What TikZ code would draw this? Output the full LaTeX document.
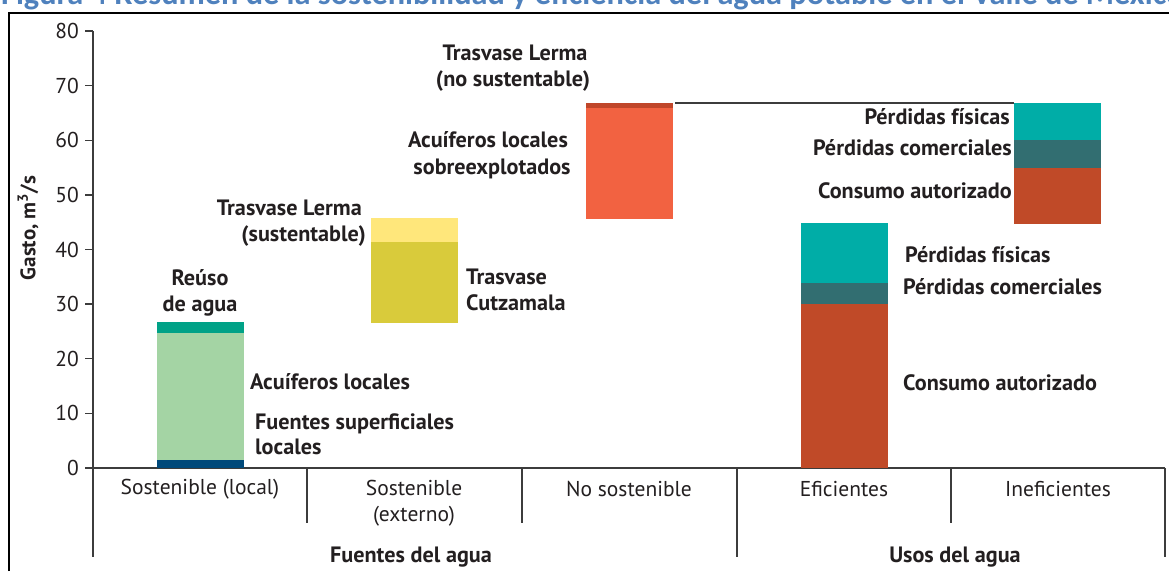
\documentclass[tikz,border=0pt]{standalone}
\usepackage{fontspec}
\setmainfont{PT Sans}
\newfontfamily\titlefont{Carlito}
\definecolor{titleblue}{HTML}{4F81BD}
\definecolor{txt}{HTML}{231F20}
\definecolor{axisgray}{HTML}{3C3C3C}
\definecolor{blueD}{HTML}{00497A}
\definecolor{greenL}{HTML}{A4D4A4}
\definecolor{greenT}{HTML}{00A287}
\definecolor{yellowL}{HTML}{FFE77B}
\definecolor{yellowD}{HTML}{D9CB3B}
\definecolor{orangeC}{HTML}{F26241}
\definecolor{redD}{HTML}{C0462A}
\definecolor{tealC}{HTML}{00ADA7}
\definecolor{tealD}{HTML}{326E71}
\definecolor{redC}{HTML}{C04A28}
\begin{document}
\begin{tikzpicture}[x=1pt,y=-1pt,
  seg/.style={inner sep=0pt, outer sep=0pt, anchor=north west, minimum width=87pt},
  lab/.style={font=\bfseries\fontsize{22.2}{26}\selectfont, text=txt, inner sep=0pt},
  cat/.style={font=\fontsize{21.5}{26}\selectfont, text=txt, inner sep=0pt},
  ticklab/.style={font=\fontsize{21.5}{26}\selectfont, text=txt, inner sep=0pt, anchor=east},
  axis/.style={draw=axisgray, line width=1.3pt},
  frame/.style={draw=black, line width=2pt}]
\useasboundingbox (0,0) rectangle (1169,571);
\begin{scope}
\clip (0,0) rectangle (1169,571);
% title (cut at the top)
\node[anchor=base west, inner sep=0pt, text=titleblue] (title) at (1,4)
  {\resizebox{1182pt}{!}{\titlefont\bfseries Figura 4 Resumen de la sostenibilidad y eficiencia del agua potable en el Valle de México}};
% frame
\draw[frame] (9,571) -- (9,13) -- (1170,13);
\end{scope}
% y axis
\draw[axis] (93,31) -- (93,557);
\foreach \v in {0,10,...,80} {
  \pgfmathsetmacro\yy{468-5.4625*\v}
  \draw[axis] (85,\yy) -- (93,\yy);
  \node[ticklab] (t\v) at (79,\yy) {\v};
}
\node[lab, rotate=90, font=\bfseries\fontsize{21}{25}\selectfont] (ylab) at (28,228) {Gasto, m\textsuperscript{3}/s};
% x axis and dividers
\draw[axis] (93,468) -- (1165,468);
\draw[axis] (307,468) -- (307,523);
\draw[axis] (522,468) -- (522,523);
\draw[axis] (737,468) -- (737,557);
\draw[axis] (951,468) -- (951,523);
\draw[axis] (1165,468) -- (1165,557);
% category labels
\node[cat] (c1) at (200,489) {Sostenible (local)};
\node[cat, align=center] (c2) at (414,503) {Sostenible\\(externo)};
\node[cat] (c3) at (629,489) {No sostenible};
\node[cat] (c4) at (844,489) {Eficientes};
\node[cat] (c5) at (1058,489) {Ineficientes};
\node[lab] (g1) at (411,557) {Fuentes del agua};
\node[lab] (g2) at (955,557) {Usos del agua};
% bar 1
\node[seg, fill=greenT, minimum height=11pt] (b1c) at (157,322) {};
\node[seg, fill=greenL, minimum height=127pt] (b1b) at (157,333) {};
\node[seg, fill=blueD, minimum height=8pt] (b1a) at (157,460) {};
% bar 2
\node[seg, fill=yellowL, minimum height=24pt] (b2b) at (371,218) {};
\node[seg, fill=yellowD, minimum height=81pt] (b2a) at (371,242) {};
% bar 3
\node[seg, fill=redD, minimum height=5pt] (b3b) at (586,103) {};
\node[seg, fill=orangeC, minimum height=111pt] (b3a) at (586,108) {};
% bar 4
\node[seg, fill=tealC, minimum height=60pt] (b4c) at (801,223) {};
\node[seg, fill=tealD, minimum height=21pt] (b4b) at (801,283) {};
\node[seg, fill=redC, minimum height=164pt] (b4a) at (801,304) {};
% bar 5
\node[seg, fill=tealC, minimum height=37pt] (b5c) at (1014,103) {};
\node[seg, fill=tealD, minimum height=28pt] (b5b) at (1014,140) {};
\node[seg, fill=redC, minimum height=56pt] (b5a) at (1014,168) {};
% connector
\draw[axis] ([xshift=2pt]b3b.north east) -- (b5c.north west);
% bar labels
\node[lab, anchor=mid] (l1a) at (200,283) {Reúso};
\node[lab, anchor=mid] (l1b) at (200,309) {de agua};
\node[lab, anchor=mid west] (l1c) at (250,387) {Acuíferos locales};
\node[lab, anchor=mid west] (l1d) at (255,427) {Fuentes superficiales};
\node[lab, anchor=mid west] (l1e) at (255,452) {locales};
\node[lab, anchor=mid east] (l2a) at (362,213) {Trasvase Lerma};
\node[lab, anchor=mid east] (l2b) at (366,239) {(sustentable)};
\node[lab, anchor=mid west] (l2c) at (466,282) {Trasvase};
\node[lab, anchor=mid west] (l2d) at (466,308) {Cutzamala};
\node[lab, anchor=mid] (l3a) at (488,145) {Acuíferos locales};
\node[lab, anchor=mid] (l3b) at (492,172) {sobreexplotados};
\node[lab, anchor=mid] (l3c) at (515,58) {Trasvase Lerma};
\node[lab, anchor=mid] (l3d) at (513,84) {(no sustentable)};
\node[lab, anchor=mid east] (l5a) at (1010,122) {Pérdidas físicas};
\node[lab, anchor=mid east] (l5b) at (1012,153) {Pérdidas comerciales};
\node[lab, anchor=mid east] (l5c) at (1012,196) {Consumo autorizado};
\node[lab, anchor=mid west] (l4a) at (905,260) {Pérdidas físicas};
\node[lab, anchor=mid west] (l4b) at (903,292) {Pérdidas comerciales};
\node[lab, anchor=mid west] (l4c) at (903,388) {Consumo autorizado};
\end{tikzpicture}
\end{document}
